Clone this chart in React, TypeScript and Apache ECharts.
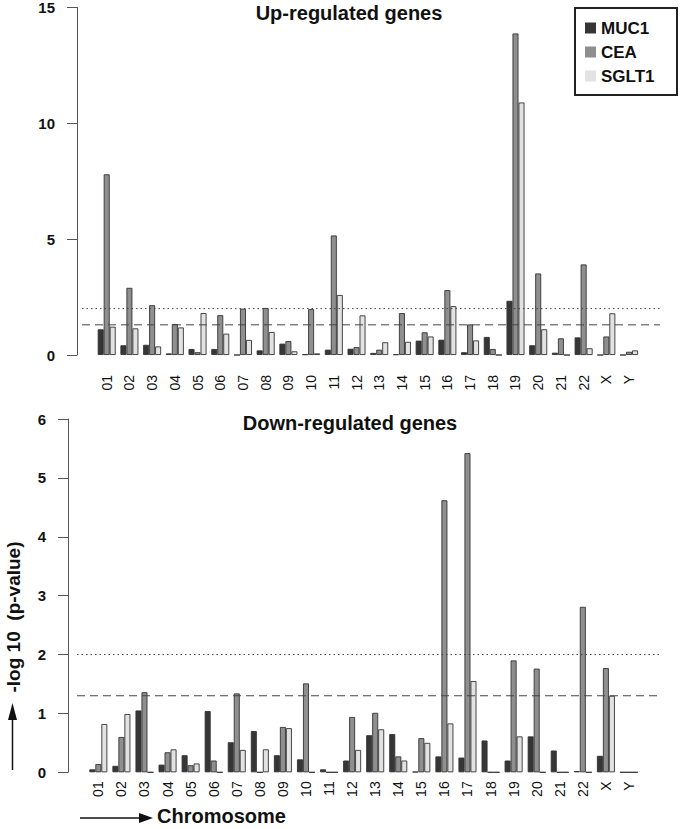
import React, { useEffect, useRef } from "react";
import * as echarts from "echarts";

const categories = ["01","02","03","04","05","06","07","08","09","10","11","12","13","14","15","16","17","18","19","20","21","22","X","Y"];
const seriesNames = ["MUC1", "CEA", "SGLT1"];

const upMUC1 = [1.11,0.42,0.44,0.07,0.26,0.26,0,0.2,0.49,0.03,0.23,0.27,0.09,0.03,0.62,0.66,0.12,0.78,2.34,0.42,0.1,0.76,0,0];
const upCEA = [7.8,2.9,2.15,1.34,0.12,1.72,2.0,2.03,0.6,1.98,5.16,0.34,0.23,1.81,0.98,2.8,1.32,0.26,13.88,3.52,0.72,3.91,0.8,0.14];
const upSGLT1 = [1.22,1.15,0.37,1.19,1.81,0.92,0.65,0.99,0.16,0.07,2.59,1.71,0.55,0.57,0.8,2.11,0.63,0,10.9,1.11,0,0.29,1.8,0.2];

const downMUC1 = [0.05,0.11,1.05,0.13,0.29,1.04,0.51,0.7,0.29,0.22,0.05,0.2,0.63,0.65,0.01,0.27,0.25,0.54,0.2,0.61,0.37,0.02,0.28,0];
const downCEA = [0.14,0.6,1.36,0.34,0.12,0.2,1.34,0,0.77,1.51,0,0.94,1.01,0.27,0.58,4.62,5.42,0,1.9,1.76,0,2.81,1.77,0];
const downSGLT1 = [0.82,0.99,0,0.39,0.15,0,0.38,0.39,0.75,0,0,0.38,0.73,0.2,0.5,0.83,1.55,0,0.61,0,0,0,1.3,0];

const upAxis = { min: 0, max: 15, interval: 5 };
const downAxis = { min: 0, max: 6, interval: 1 };
const thresholds = [2, 1.3];

const colors = ["#363636", "#8f8f8f", "#e2e2e2"];
const FONT = "Liberation Sans, Arial, Helvetica, sans-serif";

export default function App() {
  const ref = useRef<HTMLDivElement>(null);
  useEffect(() => {
    document.body.style.margin = "0";
    const chart = echarts.init(ref.current!, null, { renderer: "svg" });

    const yAxisBase = (gridIndex: number, ax: any, offset: number) => ({
      type: "value",
      gridIndex,
      min: ax.min,
      max: ax.max,
      interval: ax.interval,
      offset,
      axisLine: { show: true, lineStyle: { color: "#555", width: 1 } },
      axisTick: { show: true, length: 10, lineStyle: { color: "#555" } },
      axisLabel: { margin: 22, color: "#111", fontSize: 15, fontWeight: "bold", fontFamily: FONT },
      splitLine: { show: false },
    });
    const hiddenY = (gridIndex: number, ax: any) => ({
      type: "value", gridIndex, min: ax.min, max: ax.max, show: false, splitLine: { show: false },
    });
    const xCat = (gridIndex: number, margin: number) => ({
      type: "category",
      gridIndex,
      data: categories,
      axisLine: { show: false },
      axisTick: { show: false },
      axisLabel: { rotate: 90, margin, color: "#111", fontSize: 14, fontFamily: FONT, interval: 0 },
    });
    const xLine = (gridIndex: number) => ({ type: "value", gridIndex, min: 0, max: 1, show: false, splitLine: { show: false } });

    const bars = (vals: number[][], axisIndex: number) =>
      vals.map((v, i) => ({
        name: seriesNames[i],
        type: "bar",
        xAxisIndex: axisIndex,
        yAxisIndex: axisIndex,
        data: v,
        barWidth: 6,
        barGap: "0%",
        itemStyle: { color: colors[i], borderColor: "#333", borderWidth: 0.9 },
        silent: true,
      }));

    const lines = (axisIndex: number) =>
      thresholds.map((t, i) => ({
        name: "thr" + i,
        type: "line",
        xAxisIndex: axisIndex,
        yAxisIndex: axisIndex,
        data: [[0, t], [1, t]],
        symbol: "none",
        silent: true,
        lineStyle: { color: "#444", width: 1, type: i === 0 ? [1.5, 3] : [8, 5] },
      }));

    chart.setOption({
      animation: false,
      backgroundColor: "#fff",
      textStyle: { fontFamily: FONT },
      grid: [
        { left: 95.35, right: 39.6, top: 7, height: 348 },
        { left: 82, right: 20, top: 7, height: 348 },
        { left: 86.8, right: 39.5, top: 419, height: 353.3 },
        { left: 77, right: 20, top: 419, height: 353.3 },
      ],
      xAxis: [xCat(0, 20), xLine(1), xCat(2, 9), xLine(3)],
      yAxis: [yAxisBase(0, upAxis, 18.35), hiddenY(1, upAxis), yAxisBase(2, downAxis, 18.8), hiddenY(3, downAxis)],
      legend: {
        data: seriesNames,
        orient: "vertical",
        left: 585,
        top: 19.5,
        padding: 0,
        itemWidth: 11,
        itemHeight: 11,
        itemGap: 7,
        icon: "rect",
        itemStyle: { borderWidth: 0 },
        formatter: "{a|{name}}",
        textStyle: {
          color: "#111",
          rich: { a: { fontSize: 17, fontWeight: "bold", fontFamily: FONT, color: "#111", lineHeight: 18 } },
        },
        selectedMode: false,
      },
      series: [
        ...bars([upMUC1, upCEA, upSGLT1], 0),
        ...lines(1),
        ...bars([downMUC1, downCEA, downSGLT1], 2),
        ...lines(3),
      ],
      graphic: [
        { type: "rect", shape: { x: 575, y: 8, width: 102, height: 87 }, style: { fill: "none", stroke: "#222", lineWidth: 2 } },
        { type: "text", x: 349, y: 13, style: { text: "Up-regulated genes", font: `bold 20px ${FONT}`, fill: "#111", textAlign: "center", textVerticalAlign: "middle" } },
        { type: "text", x: 350, y: 423, style: { text: "Down-regulated genes", font: `bold 20px ${FONT}`, fill: "#111", textAlign: "center", textVerticalAlign: "middle" } },
        { type: "text", x: 13, y: 617, rotation: Math.PI / 2, style: { text: "-log 10  (p-value)", font: `bold 19px ${FONT}`, fill: "#111", textAlign: "center", textVerticalAlign: "middle" } },
        { type: "line", shape: { x1: 12.5, y1: 770, x2: 12.5, y2: 714 }, style: { stroke: "#111", lineWidth: 1.5 } },
        { type: "polygon", shape: { points: [[8, 720], [17, 720], [12.5, 703]] }, style: { fill: "#111" } },
        { type: "line", shape: { x1: 80, y1: 818, x2: 146, y2: 818 }, style: { stroke: "#111", lineWidth: 1.5 } },
        { type: "polygon", shape: { points: [[139, 813], [139, 823], [153, 818]] }, style: { fill: "#111" } },
        { type: "text", x: 157, y: 816, style: { text: "Chromosome", font: `bold 20px ${FONT}`, fill: "#111", textAlign: "left", textVerticalAlign: "middle" } },
      ],
    });
    return () => chart.dispose();
  }, []);
  return <div ref={ref} style={{ width: 680, height: 829 }} />;
}
